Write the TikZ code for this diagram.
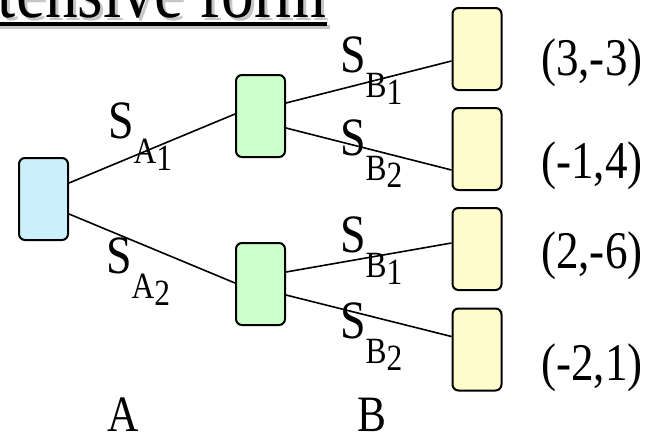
\documentclass[tikz,border=0pt]{standalone}
\usepackage{fontspec}
\setmainfont{Liberation Serif}[FakeStretch=0.85]

\newcommand{\strat}[2]{S\raisebox{-25pt}{\fontsize{37}{37}\selectfont #1\raisebox{-7pt}{#2}}}

\begin{document}
\begin{tikzpicture}[x=1pt, y=-1pt,
    box/.style={draw, line width=2pt, rounded corners=6pt, minimum width=49pt, minimum height=82pt, inner sep=0pt},
    branch/.style={line width=1.6pt},
    move/.style={anchor=base west, inner sep=0pt, font=\fontsize{54}{54}\selectfont},
    payoff/.style={anchor=base west, inner sep=0pt, font=\fontsize{53}{53}\selectfont},
    player/.style={anchor=base west, inner sep=0pt, font=\fontsize{51}{51}\selectfont},
    heading/.style={anchor=base east, inner sep=0pt, font=\fontsize{77}{77}\selectfont}]

\useasboundingbox (0,0) rectangle (650,437);

% title, cut off at the top
\node[heading, text=gray!45] (titleshadow) at (330,20) {Extensive form};
\draw[gray!45, line width=4pt] ([yshift=-7pt]titleshadow.base west) -- ([yshift=-7pt]titleshadow.base east);
\node[heading] (title) at (327,17) {Extensive form};
\draw[line width=4pt] ([yshift=-7pt]title.base west) -- ([yshift=-7pt]title.base east);

\node[box, fill=cyan!20] (root) at (43.5,199) {};
\node[box, fill=green!20] (a1) at (260.5,116) {};
\node[box, fill=green!20] (a2) at (260.5,284) {};
\node[box, fill=yellow!20] (o1) at (477,49) {};
\node[box, fill=yellow!20] (o2) at (477,149) {};
\node[box, fill=yellow!20] (o3) at (477,249) {};
\node[box, fill=yellow!20] (o4) at (477,349.5) {};

\node[move] (sa1) at (108,138) {\strat{A}{1}};
\node[move] (sa2) at (106,273) {\strat{A}{2}};
\node[move] (sb11) at (340,72) {\strat{B}{1}};
\node[move] (sb12) at (340,155) {\strat{B}{2}};
\node[move] (sb21) at (340,252) {\strat{B}{1}};
\node[move] (sb22) at (340,338) {\strat{B}{2}};

\node[payoff] (p1) at (541,75) {(3,-3)};
\node[payoff] (p2) at (541,178) {(-1,4)};
\node[payoff] (p3) at (541,268) {(2,-6)};
\node[payoff] (p4) at (541,380) {(-2,1)};

\node[player] (pa) at (107,431) {A};
\node[player] (pb) at (357,431) {B};

\draw[branch] ([yshift=16pt]root.east) -- ([yshift=2pt]a1.west);
\draw[branch] ([yshift=-15pt]root.east) -- ([yshift=1pt]a2.west);
\draw[branch] ([yshift=13pt]a1.east) -- ([yshift=-12pt]o1.west);
\draw[branch] ([yshift=-12pt]a1.east) -- ([yshift=-21pt]o2.west);
\draw[branch] ([yshift=12pt]a2.east) -- ([yshift=6pt]o3.west);
\draw[branch] ([yshift=-11pt]a2.east) -- ([yshift=13pt]o4.west);
\end{tikzpicture}
\end{document}
